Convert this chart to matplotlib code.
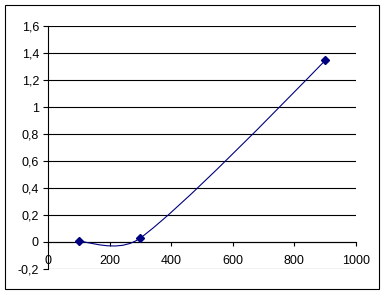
import numpy as np
import matplotlib
matplotlib.use("Agg")
import matplotlib.pyplot as plt
from matplotlib.path import Path
from matplotlib.patches import PathPatch, Rectangle

# data
x_vals = [100, 300, 900]
y_vals = [0.01, 0.03, 1.345]
y_ticks = [-0.2, 0, 0.2, 0.4, 0.6, 0.8, 1.0, 1.2, 1.4, 1.6]
x_ticks = [0, 200, 400, 600, 800, 1000]

NAVY = "#000080"
W, H = 388, 296

plt.rcParams["font.family"] = ["Liberation Sans", "DejaVu Sans"]
plt.rcParams["font.size"] = 9

fig = plt.figure(figsize=(W / 100, H / 100), dpi=100)
ax = fig.add_axes([48 / W, 1 - 269 / H, (356 - 48) / W, (269 - 26) / H])

ax.set_xlim(0, 1000)
ax.set_ylim(-0.2, 1.6)

for yv in y_ticks:
    ax.axhline(yv, color="black", lw=0.8, zorder=1)

ax.spines["top"].set_visible(False)
ax.spines["right"].set_visible(False)
ax.spines["left"].set_linewidth(0.8)
ax.spines["bottom"].set_position(("data", 0))
ax.spines["bottom"].set_linewidth(0.8)

ax.set_yticks(y_ticks)
ax.set_yticklabels([f"{v:g}".replace(".", ",") for v in y_ticks])
ax.set_xticks(x_ticks)
ax.set_xticklabels([str(v) for v in x_ticks])
ax.tick_params(axis="y", direction="out", length=3.5, width=0.8, pad=3)
ax.tick_params(axis="x", direction="out", length=3, width=0.8, pad=6)


def smooth_path(xs, ys, f=0.35):
    """Excel-like smoothed line: cubic Bezier built in display space."""
    p = ax.transData.transform(np.column_stack([xs, ys]))
    n = len(p)
    verts = [p[0]]
    codes = [Path.MOVETO]
    for i in range(n - 1):
        a, b = p[i], p[i + 1]
        seg = np.linalg.norm(b - a)
        c1 = c2 = None
        if i > 0:
            t = p[i + 1] - p[i - 1]
            c1 = a + t / np.linalg.norm(t) * min(f * seg, np.linalg.norm(t) / 6)
        if i + 2 < n:
            t = p[i + 2] - p[i]
            c2 = b - t / np.linalg.norm(t) * min(f * seg, np.linalg.norm(t) / 6)
        if c1 is None:
            c1 = a + (c2 - a) * 0.5
        if c2 is None:
            c2 = b + (c1 - b) / 3
        verts += [c1, c2, b]
        codes += [Path.CURVE4] * 3
    verts = ax.transData.inverted().transform(np.array(verts))
    return Path(verts, codes)


ax.add_patch(PathPatch(smooth_path(x_vals, y_vals), fill=False,
                       ec=NAVY, lw=0.8, zorder=3))
ax.plot(x_vals, y_vals, ls="none", marker="D", ms=4, color=NAVY, zorder=4)

# outer chart border
fig.patches.append(Rectangle((5 / W, 1 - 289 / H), 374 / W, 284 / H,
                             transform=fig.transFigure, fill=False,
                             ec="black", lw=0.8))

fig.savefig("out.png", dpi=100)
